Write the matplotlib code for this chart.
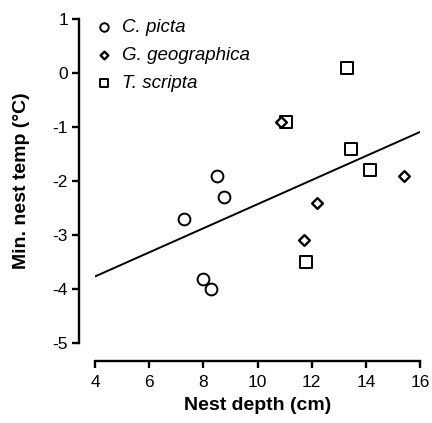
import numpy as np
import matplotlib
matplotlib.use("Agg")
import matplotlib.pyplot as plt

plt.rcParams['font.family'] = ['Liberation Sans', 'DejaVu Sans']
plt.rcParams['axes.unicode_minus'] = False

# nest depth (cm) and min. nest temp (C) per species
picta_depth = [7.3, 8.5, 8.75, 8.0, 8.3]
picta_temp = [-2.7, -1.9, -2.3, -3.82, -4.0]

geo_depth = [10.85, 12.2, 15.4, 11.7]
geo_temp = [-0.9, -2.4, -1.9, -3.1]

scripta_depth = [11.05, 13.3, 13.45, 14.15, 11.8]
scripta_temp = [-0.9, 0.1, -1.4, -1.8, -3.5]

# regression line (slope, intercept)
fit_slope = 0.223
fit_intercept = -4.66
fit_range = [4, 16]

fig = plt.figure(figsize=(4.32, 4.23), dpi=100)
ax = fig.add_axes([95/432, 1 - 343/423, 325/432, 324/423])

mk = dict(s=72, facecolors='white', edgecolors='black', linewidths=1.4, zorder=3)
ax.scatter(picta_depth, picta_temp, marker='o', label='C. picta', **mk)
ax.scatter(geo_depth, geo_temp, marker='D', label='G. geographica',
           s=30, facecolors='white', edgecolors='black', linewidths=1.7, zorder=4)
ax.scatter(scripta_depth, scripta_temp, marker='s', label='T. scripta', **mk)

xs = np.array(fit_range)
ax.plot(xs, fit_intercept + fit_slope * xs, color='black', lw=1.4, zorder=2)

ax.set_xlim(4, 16)
ax.set_ylim(-5, 1)
ax.set_xticks(range(4, 17, 2))
ax.set_yticks(range(-5, 2))

for s in ['top', 'right']:
    ax.spines[s].set_visible(False)
ax.spines['left'].set_position(('outward', 11.5))
ax.spines['bottom'].set_position(('outward', 13))
ax.spines['left'].set_linewidth(1.7)
ax.spines['bottom'].set_linewidth(1.7)
ax.tick_params(width=1.7, length=5, labelsize=12.5, pad=3)
ax.tick_params(axis='x', pad=5)

ax.set_xlabel('Nest depth (cm)', fontsize=14, fontweight='bold', labelpad=5)
ax.set_ylabel('Min. nest temp (°C)', fontsize=14, fontweight='bold', labelpad=16)

leg = ax.legend(loc='upper left', frameon=False, prop={'style': 'italic', 'size': 13.5},
                handlelength=1.4, handletextpad=0.25, borderaxespad=0.0,
                labelspacing=0.6, markerscale=0.72, bbox_to_anchor=(-0.035, 1.025))

fig.savefig('out.png', dpi=100)
